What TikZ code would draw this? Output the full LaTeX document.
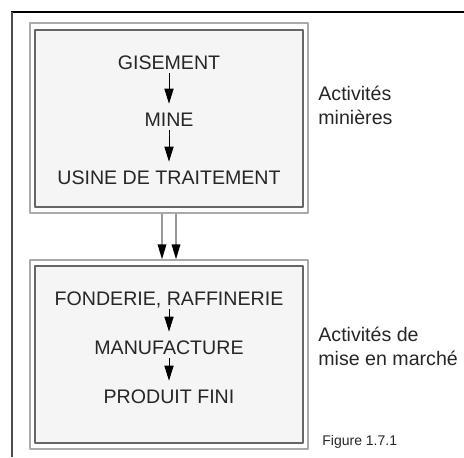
\documentclass[tikz,border=0pt]{standalone}
\usepackage{fontspec}
\setmainfont{Liberation Sans}
\usetikzlibrary{arrows.meta}
\definecolor{boxfill}{gray}{0.96}
\tikzset{>={Triangle[length=7.5pt,width=4.6pt]}}
\tikzset{
    outerbox/.style={draw=gray!67, line width=0.7pt, fill=white, inner sep=0pt},
    innerbox/.style={draw=gray!80!black, line width=1pt, fill=boxfill, inner sep=0pt},
    step label/.style={font=\fontsize{9.8}{12}\selectfont, text=black!85, text height=7pt, text depth=0pt, inner sep=2pt},
    side label/.style={font=\fontsize{9.8}{11.6}\selectfont, text=black!85, align=left, anchor=north west, inner sep=0pt},
    flow/.style={->, thin, shorten >=2pt},
    pair/.style={-{Triangle[length=7.5pt,width=4.3pt,color=black]}, draw=gray!80, line width=0.8pt}
}

\begin{document}
\begin{tikzpicture}[x=0.5pt, y=-0.5pt, line join = round]
    \useasboundingbox (0,0) rectangle (464,457);

    % frame
    \draw[line width=1pt, black] (11,12) -- (464,12);
    \draw[line width=1pt, gray!60!black] (12,12) -- (12,457);

    % upper block
    \node[outerbox, minimum width=139pt, minimum height=95pt] (mines) at (169,118) {};
    \node[innerbox, minimum width=134pt, minimum height=88.5pt] (minesin) at (169,118.5) {};
    \node[step label] (gis) at (169,62) {GISEMENT};
    \node[step label] (mine) at (169,119) {MINE};
    \node[step label] (usine) at (169,177) {USINE DE TRAITEMENT};
    \draw[flow] (gis) -- (mine);
    \draw[flow] (mine) -- (usine);

    % lower block
    \node[outerbox, minimum width=139pt, minimum height=94.5pt] (marche) at (169,354.5) {};
    \node[innerbox, minimum width=134pt, minimum height=88.5pt] (marchein) at (169,354.5) {};
    \node[step label] (fond) at (169,298) {FONDERIE, RAFFINERIE};
    \node[step label] (manu) at (169,347) {MANUFACTURE};
    \node[step label] (prod) at (169,396) {PRODUIT FINI};
    \draw[flow] (fond) -- (manu);
    \draw[flow] (manu) -- (prod);

    % link between blocks
    \draw[pair] ([xshift=-3.5pt]mines.south) -- ([xshift=-3.5pt]marche.north);
    \draw[pair] ([xshift=3.5pt]mines.south) -- ([xshift=3.5pt]marche.north);

    % side texts
    \node[side label] (lblmines) at (318,86) {Activités\\minières};
    \node[side label] (lblmarche) at (318,327) {Activités de\\mise en marché};
    \node[font=\fontsize{7}{8}\selectfont, text=black!85, anchor=base west, inner sep=0pt] (fig) at (322,445) {Figure 1.7.1};
\end{tikzpicture}
\end{document}
